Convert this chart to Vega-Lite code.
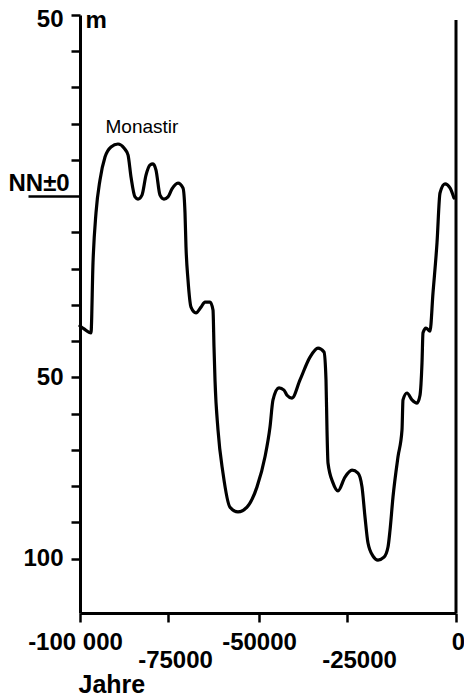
{
  "$schema": "https://vega.github.io/schema/vega-lite/v6.json",
  "width": 376,
  "height": 598,
  "autosize": "none",
  "padding": {"left": 80, "top": 15, "right": 8, "bottom": 85},
  "background": "white",
  "config": {"view": {"stroke": null}, "font": "Liberation Sans", "text": {"font": "Liberation Sans"}},
  "encoding": {
    "x": {
      "field": "year", "type": "quantitative",
      "scale": {"type": "linear", "domain": [-100000, -75000, -50000, -25000, 0], "range": [0, 88, 179, 267, 376], "nice": false, "zero": false},
      "axis": {
        "values": [-100000, -75000, -50000, -25000, 0],
        "grid": false,
        "title": "Jahre",
        "titleX": -2, "titleY": 79, "titleAlign": "left", "titleAnchor": "start", "titleBaseline": "alphabetic",
        "titleFontSize": 25, "titleFontWeight": "bold", "titleColor": "black", "titleFont": "Liberation Sans",
        "labelExpr": "datum.value == -100000 ? '-100 000' : '' + datum.value",
        "labelFont": "Liberation Sans", "labelFontSize": 24, "labelFontWeight": "bold", "labelColor": "black",
        "labelFlush": false, "labelOverlap": false, "labelBaseline": "top",
        "labelPadding": {"condition": {"test": "datum.value == -75000 || datum.value == -25000", "value": 26}, "value": 8},
        "labelOffset": {"condition": [
          {"test": "datum.value == -100000", "value": -5},
          {"test": "datum.value == -75000", "value": 7},
          {"test": "datum.value == -25000", "value": 12},
          {"test": "datum.value == 0", "value": 2}
        ], "value": 0},
        "tickSize": 9, "tickWidth": 2.5, "tickColor": "black",
        "domainColor": "black", "domainWidth": 3
      }
    },
    "y": {
      "field": "depth", "type": "quantitative",
      "scale": {"domain": [-115, 50], "nice": false, "zero": false},
      "axis": {
        "values": [-100, -90, -80, -70, -60, -50, -40, -30, -20, -10, 0, 10, 20, 30, 40, 50],
        "grid": false,
        "title": "m",
        "titleAngle": 0, "titleX": 5, "titleY": 12, "titleAlign": "left", "titleBaseline": "alphabetic",
        "titleFontSize": 24, "titleFontWeight": "bold", "titleColor": "black", "titleFont": "Liberation Sans",
        "labelExpr": "datum.value == 0 ? 'NN±0' : ((datum.value == 50 || datum.value == -50 || datum.value == -100) ? '' + abs(datum.value) : '')",
        "labelFont": "Liberation Sans", "labelFontSize": 24, "labelFontWeight": "bold", "labelColor": "black",
        "labelFlush": false, "labelOverlap": false,
        "labelPadding": {"condition": {"test": "datum.value == 0", "value": 20}, "value": 8},
        "labelAlign": {"condition": {"test": "datum.value == 0", "value": "left"}, "value": "right"},
        "labelBaseline": {"condition": {"test": "datum.value == 0", "value": "alphabetic"}, "value": "middle"},
        "labelOffset": {"condition": [
          {"test": "datum.value == 0", "value": -6},
          {"test": "datum.value == 50", "value": 4}
        ], "value": 0},
        "tickSize": {"condition": {"test": "datum.value == 0", "value": 52}, "value": 9},
        "tickWidth": 2.5, "tickColor": "black",
        "domainColor": "black", "domainWidth": 3
      }
    }
  },
  "layer": [
    {
      "data": {"values": [
        {"year": -100000, "depth": -35.8}, {"year": -98864, "depth": -36.6}, {"year": -96875, "depth": -37.7},
        {"year": -96307, "depth": -18.4}, {"year": -95455, "depth": -4.6}, {"year": -94318, "depth": 4.5},
        {"year": -92898, "depth": 10.8}, {"year": -91193, "depth": 13.6}, {"year": -89205, "depth": 14.4},
        {"year": -87500, "depth": 13.3}, {"year": -86364, "depth": 11.4}, {"year": -85511, "depth": 5.3},
        {"year": -84375, "depth": -0.2}, {"year": -83523, "depth": -0.8}, {"year": -82386, "depth": 0.3},
        {"year": -81250, "depth": 5.8}, {"year": -80114, "depth": 8.6}, {"year": -79261, "depth": 8.9},
        {"year": -78409, "depth": 7.2}, {"year": -77273, "depth": 0.3}, {"year": -76136, "depth": -0.8},
        {"year": -75000, "depth": -0.2}, {"year": -73901, "depth": 2.0}, {"year": -72253, "depth": 3.6},
        {"year": -70879, "depth": 2.3}, {"year": -70330, "depth": -4.6}, {"year": -70055, "depth": -14.0},
        {"year": -69505, "depth": -23.1}, {"year": -68681, "depth": -30.6}, {"year": -67308, "depth": -32.2},
        {"year": -65934, "depth": -30.6}, {"year": -64835, "depth": -29.2}, {"year": -63461, "depth": -29.2},
        {"year": -62637, "depth": -31.4}, {"year": -62363, "depth": -41.6}, {"year": -62088, "depth": -50.7},
        {"year": -61264, "depth": -64.5}, {"year": -59890, "depth": -76.4}, {"year": -57967, "depth": -85.8},
        {"year": -55769, "depth": -87.1}, {"year": -53297, "depth": -85.8}, {"year": -50549, "depth": -80.2},
        {"year": -48295, "depth": -71.9}, {"year": -46875, "depth": -63.7}, {"year": -46023, "depth": -56.2},
        {"year": -44318, "depth": -52.9}, {"year": -42898, "depth": -53.5}, {"year": -42045, "depth": -54.9},
        {"year": -40625, "depth": -55.7}, {"year": -38352, "depth": -50.7}, {"year": -35511, "depth": -44.4},
        {"year": -33239, "depth": -41.9}, {"year": -31534, "depth": -43.0}, {"year": -30966, "depth": -50.7},
        {"year": -30682, "depth": -64.5}, {"year": -30398, "depth": -73.6}, {"year": -28977, "depth": -79.1},
        {"year": -27557, "depth": -81.3}, {"year": -25568, "depth": -77.5}, {"year": -23853, "depth": -75.6},
        {"year": -22477, "depth": -76.4}, {"year": -21560, "depth": -80.2}, {"year": -20872, "depth": -88.5},
        {"year": -20183, "depth": -95.7}, {"year": -19037, "depth": -99.3}, {"year": -17890, "depth": -100.4},
        {"year": -16514, "depth": -99.6}, {"year": -15596, "depth": -96.8}, {"year": -15138, "depth": -92.2},
        {"year": -14450, "depth": -83.0}, {"year": -13303, "depth": -71.9}, {"year": -12385, "depth": -64.5},
        {"year": -12156, "depth": -56.2}, {"year": -11239, "depth": -54.3}, {"year": -10092, "depth": -56.2},
        {"year": -8945, "depth": -57.1}, {"year": -8257, "depth": -54.9}, {"year": -7798, "depth": -46.0},
        {"year": -7569, "depth": -37.7}, {"year": -6881, "depth": -36.4}, {"year": -5963, "depth": -37.2},
        {"year": -5275, "depth": -26.7}, {"year": -4358, "depth": -12.9}, {"year": -3670, "depth": 0.9},
        {"year": -2523, "depth": 3.4}, {"year": -1376, "depth": 2.3}, {"year": -459, "depth": -0.5}
      ]},
      "mark": {"type": "line", "interpolate": "monotone", "color": "black", "strokeWidth": 3.2, "strokeJoin": "round", "strokeCap": "round"}
    },
    {
      "data": {"values": [{"year": 0, "depth": 48.6, "depth2": -115}]},
      "mark": {"type": "rule", "color": "black", "strokeWidth": 3},
      "encoding": {
        "y2": {"field": "depth2"}
      }
    },
    {
      "data": {"values": [{"year": -82400, "depth": 17.4, "label": "Monastir"}]},
      "mark": {"type": "text", "fontSize": 19, "fontWeight": "normal", "baseline": "alphabetic", "align": "center", "color": "black", "font": "Liberation Sans"},
      "encoding": {
        "text": {"field": "label"}
      }
    }
  ]
}
